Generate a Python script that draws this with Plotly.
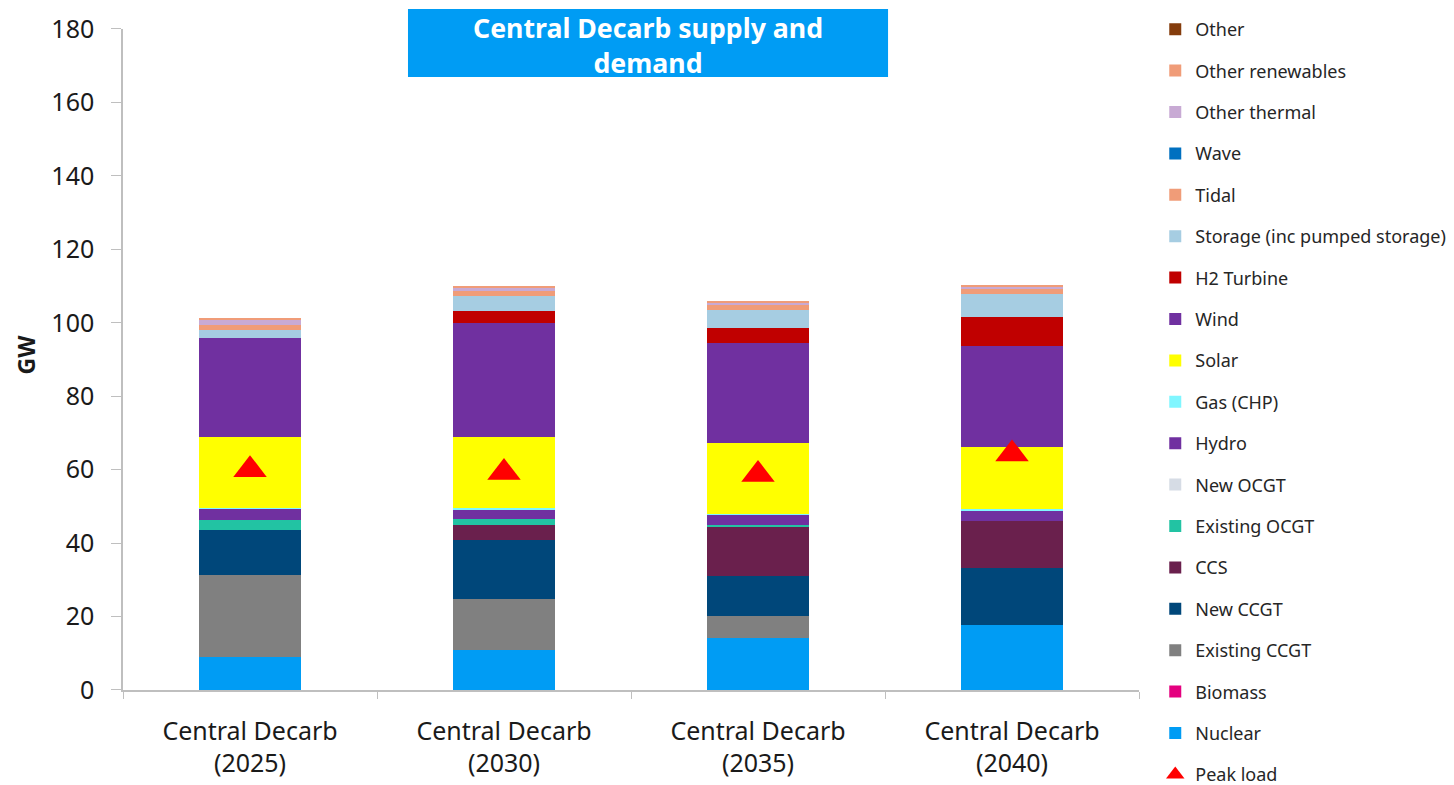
import plotly.graph_objects as go

# Scenario years on the category axis
categories = ["Central Decarb<br>(2025)", "Central Decarb<br>(2030)",
              "Central Decarb<br>(2035)", "Central Decarb<br>(2040)"]

# Installed capacity by technology (GW), stacked bottom to top
nuclear = [9.0, 10.9, 14.2, 17.7]
biomass = [0.0, 0.0, 0.0, 0.0]
existing_ccgt = [22.4, 13.9, 6.0, 0.0]
new_ccgt = [12.3, 16.0, 10.8, 15.4]
ccs = [0.0, 4.1, 13.3, 12.9]
existing_ocgt = [2.7, 1.6, 0.6, 0.0]
new_ocgt = [0.0, 0.0, 0.0, 0.0]
hydro = [2.9, 2.7, 2.8, 2.8]
gas_chp = [0.2, 0.3, 0.3, 0.4]
solar = [19.5, 19.5, 19.2, 17.1]
wind = [26.8, 31.0, 27.2, 27.5]
h2_turbine = [0.0, 3.1, 4.3, 7.7]
storage = [2.1, 4.3, 4.8, 6.3]
tidal = [1.4, 1.3, 1.4, 1.5]
wave = [0.0, 0.0, 0.0, 0.0]
other_thermal = [1.6, 0.8, 0.6, 0.6]
other_renewables = [0.4, 0.4, 0.4, 0.3]
other = [0.0, 0.0, 0.0, 0.0]

# Peak demand (GW)
peak_load = [60.0, 59.2, 58.7, 64.3]

series = [
    ("Nuclear", nuclear, "#009CF4"),
    ("Biomass", biomass, "#E4007F"),
    ("Existing CCGT", existing_ccgt, "#808080"),
    ("New CCGT", new_ccgt, "#00477A"),
    ("CCS", ccs, "#6A204D"),
    ("Existing OCGT", existing_ocgt, "#22C3A3"),
    ("New OCGT", new_ocgt, "#D6DCE5"),
    ("Hydro", hydro, "#7030A0"),
    ("Gas (CHP)", gas_chp, "#80F6FF"),
    ("Solar", solar, "#FFFF00"),
    ("Wind", wind, "#7030A0"),
    ("H2 Turbine", h2_turbine, "#C00000"),
    ("Storage (inc pumped storage)", storage, "#A6CDE2"),
    ("Tidal", tidal, "#F09C78"),
    ("Wave", wave, "#0070C0"),
    ("Other thermal", other_thermal, "#C8AAD4"),
    ("Other renewables", other_renewables, "#F09C78"),
    ("Other", other, "#843C0C"),
]

FONT = "Noto Sans"

fig = go.Figure()
n = len(series)
for i, (name, vals, color) in enumerate(series):
    fig.add_trace(go.Bar(
        x=categories, y=vals, name=name,
        marker=dict(color=color, line=dict(width=0)),
        legendgroup=name, legendrank=n - i,
    ))

fig.add_trace(go.Scatter(
    x=categories, y=peak_load, name="Peak load", mode="markers",
    marker=dict(symbol="triangle-up", size=29, color="#FF0000"),
    legendgroup="Peak load", legendrank=n + 1,
))

# Full-height plotting region so the long legend fits; the y axis
# occupies only part of it through its domain.
fig.update_layout(
    width=1454, height=785,
    margin=dict(l=123, r=315, t=0, b=0, autoexpand=False),
    paper_bgcolor="white", plot_bgcolor="white",
    barmode="stack", bargap=0.6,
    showlegend=True,
    legend=dict(
        x=1.016, xanchor="left", y=0.9860, yanchor="top",
        font=dict(family=FONT, size=18, color="#262626"),
        tracegroupgap=15, itemwidth=30,
        bgcolor="rgba(0,0,0,0)",
    ),
    xaxis=dict(
        showline=True, linecolor="#BFBFBF", linewidth=1.5,
        ticks="outside", tickson="boundaries", ticklen=7, tickcolor="#BFBFBF",
        tickfont=dict(family=FONT, size=25, color="#1A1A1A"),
        ticklabelstandoff=18,
        showgrid=False,
    ),
    yaxis=dict(
        domain=[0.12102, 0.96306],
        range=[0, 180], dtick=20,
        showline=True, linecolor="#BFBFBF", linewidth=1.5,
        ticks="outside", ticklen=10, tickcolor="#BFBFBF",
        tickfont=dict(family=FONT, size=25, color="#1A1A1A"),
        ticklabelstandoff=12,
        showgrid=False, zeroline=False,
    ),
    shapes=[dict(
        type="rect", xref="paper", yref="paper",
        x0=0.2805, x1=0.753, y0=0.90191, y1=0.98854,
        fillcolor="#009CF4", line=dict(width=0), layer="above",
    )],
    annotations=[
        dict(text="<b>Central Decarb supply and<br>demand</b>",
             xref="paper", yref="paper", x=0.5167, y=0.94268,
             xanchor="center", yanchor="middle", showarrow=False,
             font=dict(family=FONT, size=26.7, color="white")),
        dict(text="<b>GW</b>", xref="paper", yref="paper",
             x=-0.095, y=0.54904, textangle=-90, showarrow=False,
             xanchor="center", yanchor="middle",
             font=dict(family=FONT, size=23, color="#1A1A1A")),
    ],
)

fig.write_html("out.html")
